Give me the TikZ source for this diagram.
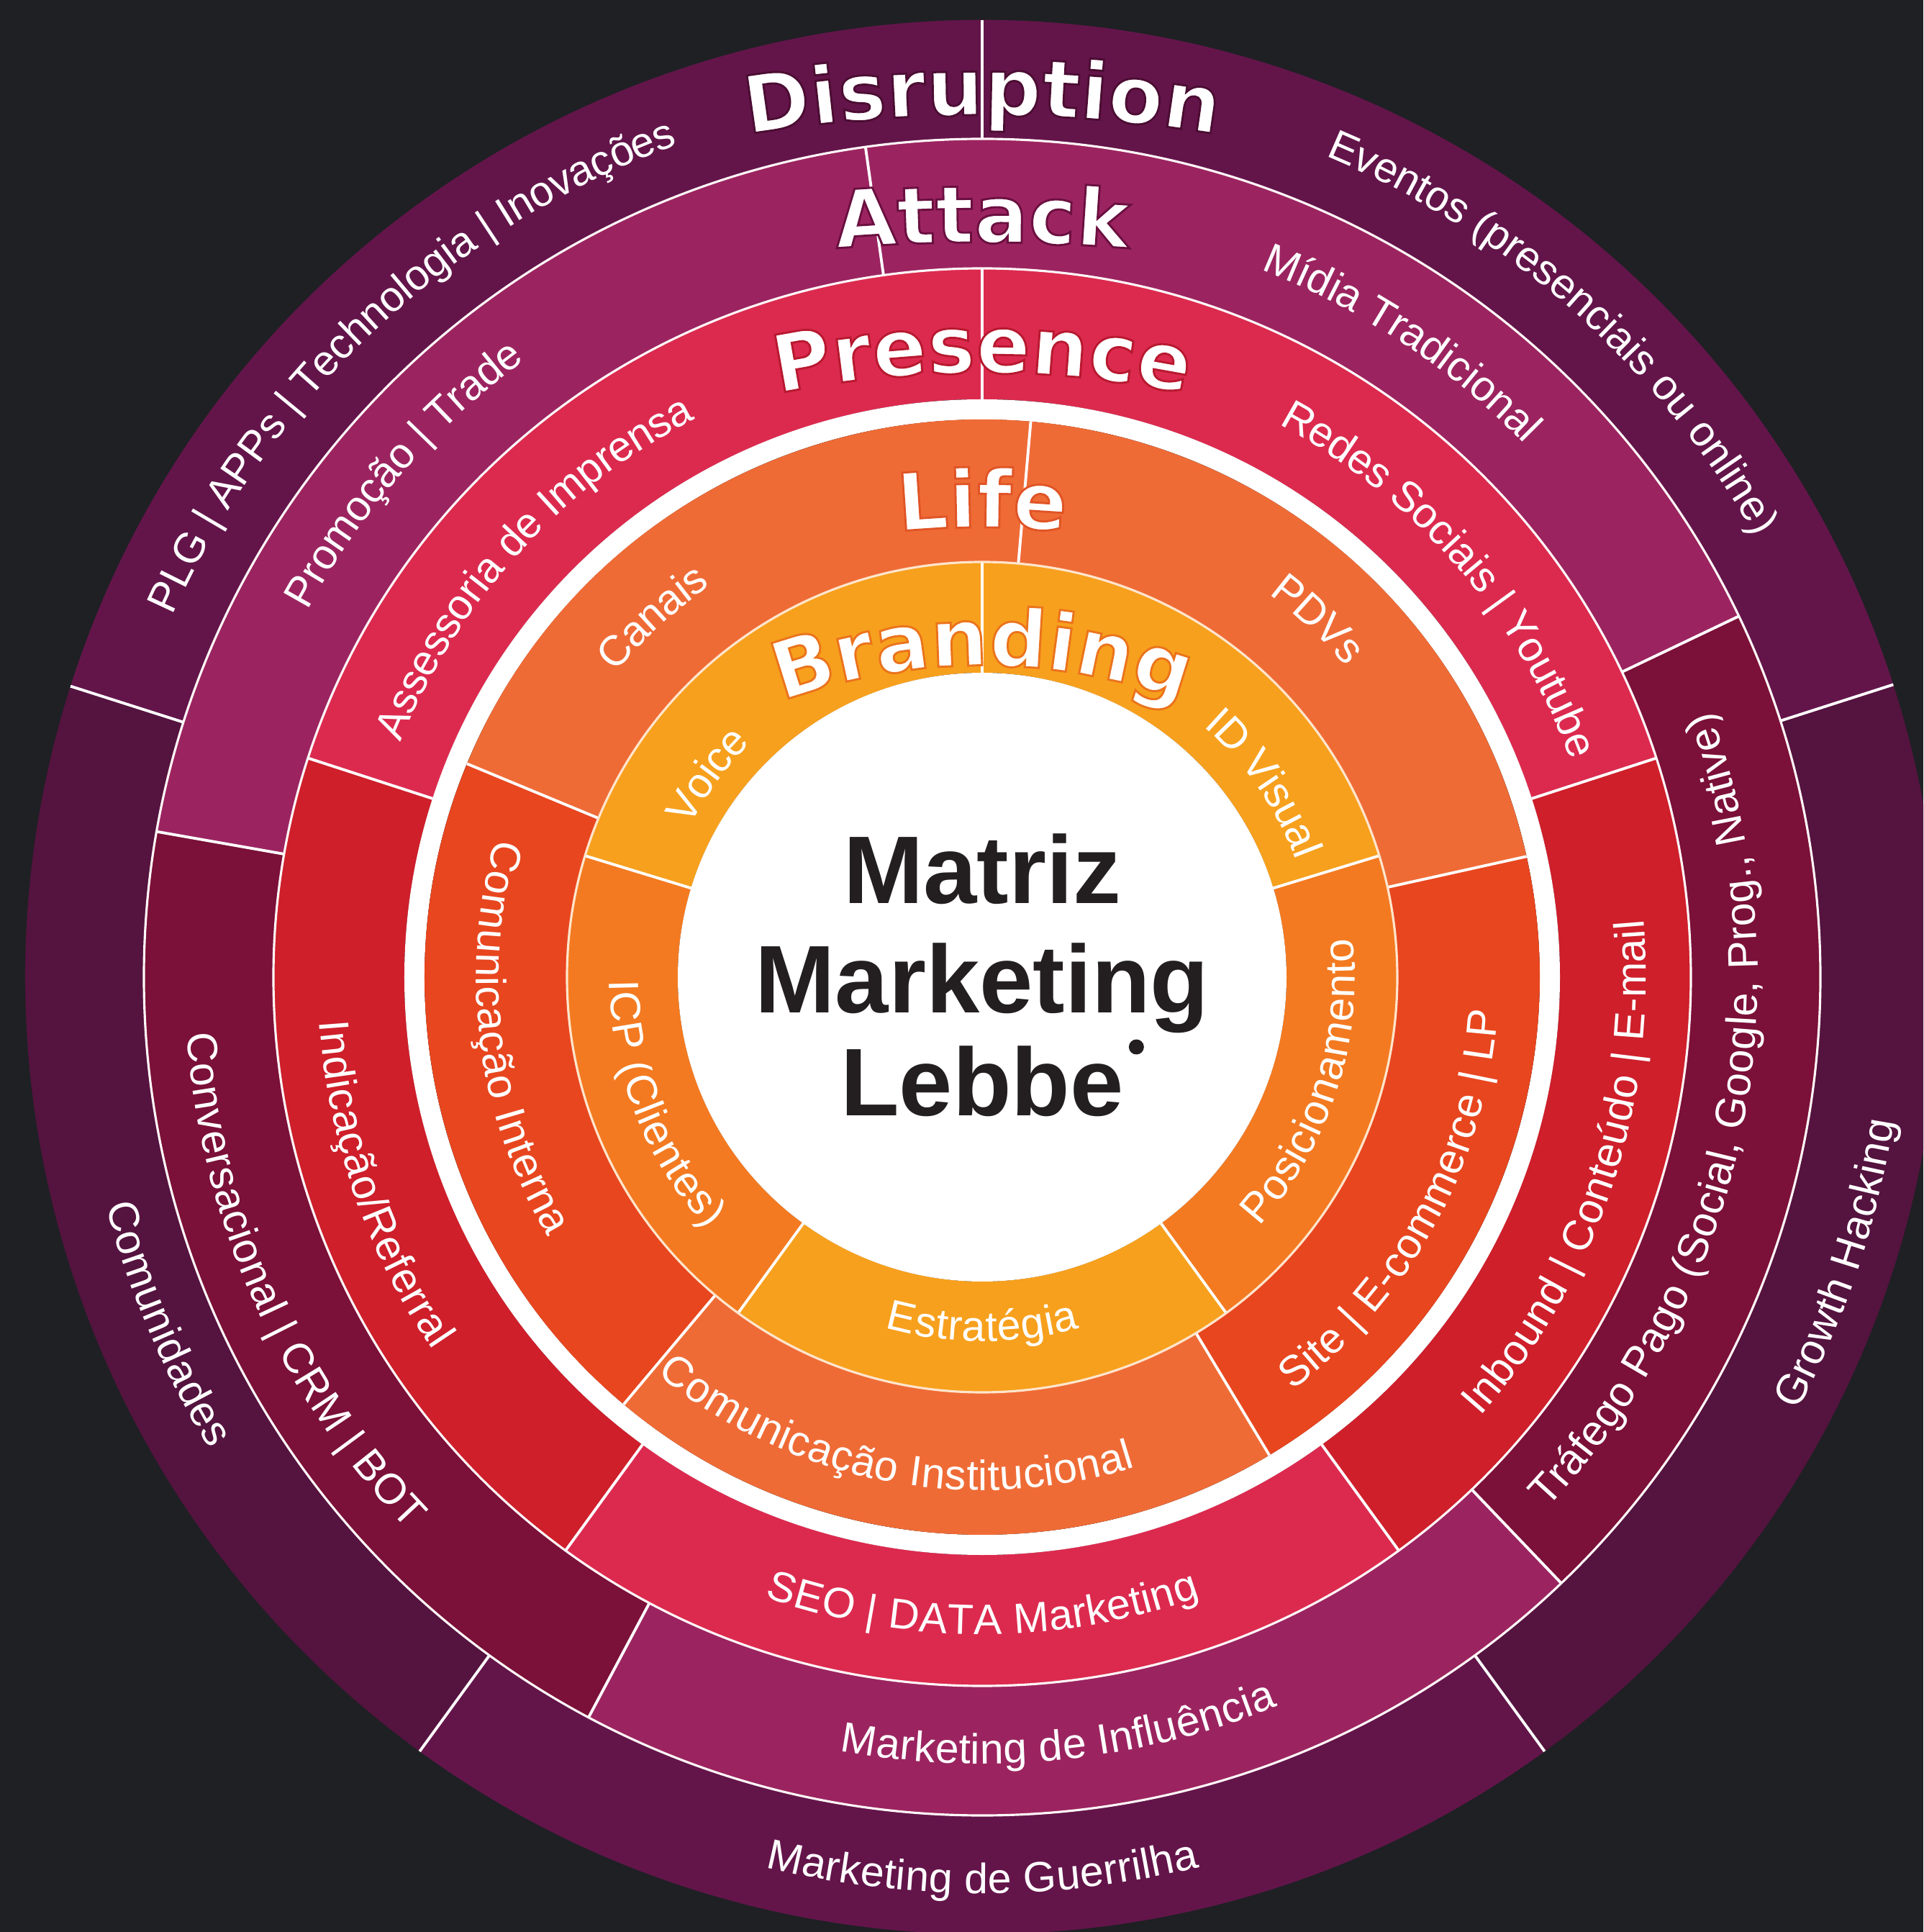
\documentclass[tikz,border=0pt]{standalone}
\usepackage{fontspec}
\setmainfont{Liberation Sans}
\newfontfamily\titlefamily{DejaVu Sans Bold}[FakeBold=2.6]
\usetikzlibrary{decorations.text}

\definecolor{bgdark}{HTML}{1F2024}
\definecolor{inkdark}{HTML}{231F20}
\definecolor{brandY}{HTML}{F7A01D}
\definecolor{brandO}{HTML}{F37A21}
\definecolor{lifeO}{HTML}{EF6B36}
\definecolor{lifeR}{HTML}{E8461F}
\definecolor{presP}{HTML}{DC2A4F}
\definecolor{presR}{HTML}{CE1F2B}
\definecolor{attM}{HTML}{9B2460}
\definecolor{attC}{HTML}{7B1038}
\definecolor{disT}{HTML}{63154A}
\definecolor{disS}{HTML}{55133F}

\newcommand{\lblfont}{\fontsize{16.8}{20}\selectfont}
\newcommand{\titlefont}{\titlefamily\fontsize{31.5}{34}\selectfont}

% annular sector: inner r, outer r, from, to, colour
\newcommand{\ringsector}[5]{%
  \fill[#5] (#3:#1) arc[start angle=#3, end angle=#4, radius=#1]
    -- (#4:#2) arc[start angle=#4, end angle=#3, radius=#2] -- cycle;}

% label read clockwise (top half): radius, middle angle, text
\newcommand{\cwtext}[3]{%
  \path[decorate, decoration={text along path, text align=center, raise=-0.18cm,
      text color=white, text={|\lblfont|#3}}]
    (#2+70:#1) arc[start angle=#2+70, end angle=#2-70, radius=#1];}

% label read counter-clockwise (sides and bottom)
\newcommand{\ccwtext}[3]{%
  \path[decorate, decoration={text along path, text align=center, raise=-0.18cm,
      text color=white, text={|\lblfont|#3}}]
    (#2-70:#1) arc[start angle=#2-70, end angle=#2+70, radius=#1];}

% ring title: baseline radius, bend radius, text, outline rgb (0-1)
\newcommand{\ringtitle}[4]{%
  \path[decorate, decoration={text along path, text align=center,
      text color=white, text={|\titlefont\special{pdf:code #4 RG}|#3}}]
    (0,#1-#2) ++(120:#2) arc[start angle=120, end angle=60, radius=#2];}

\begin{document}
\begin{tikzpicture}[
    divider/.style={draw=white, line width=1.1pt},
    ringline/.style={draw=white!88!pink, line width=0.9pt},
    centertext/.style={font=\bfseries\fontsize{38}{42}\selectfont, text=inkdark,
      inner sep=0pt, anchor=base}
  ]

  \useasboundingbox (-13.65,-13.27) rectangle (13.08,13.58);
  \clip (-13.65,-13.27) rectangle (13.08,13.58);
  \fill[bgdark] (-13.65,-13.27) rectangle (13.08,13.58);

  % Disruption ring (11.65 to 13.30)
  \ringsector{11.65}{13.30}{17.8}{162.3}{disT}
  \ringsector{11.65}{13.30}{162.3}{234}{disS}
  \ringsector{11.65}{13.30}{234}{306}{disT}
  \ringsector{11.65}{13.30}{306}{377.8}{disS}

  % Attack ring (9.85 to 11.65)
  \ringsector{9.85}{11.65}{25.5}{170}{attM}
  \ringsector{9.85}{11.65}{170}{242}{attC}
  \ringsector{9.85}{11.65}{242}{313.7}{attM}
  \ringsector{9.85}{11.65}{313.7}{385.5}{attC}

  % Presence ring (8.03 to 9.85)
  \ringsector{8.03}{9.85}{18}{162}{presP}
  \ringsector{8.03}{9.85}{162}{234}{presR}
  \ringsector{8.03}{9.85}{234}{306}{presP}
  \ringsector{8.03}{9.85}{306}{378}{presR}

  % white band
  \fill[white, even odd rule] (0,0) circle[radius=8.03] (0,0) circle[radius=7.75];

  % Life ring (5.77 to 7.75)
  \ringsector{5.77}{7.75}{12.5}{157.5}{lifeO}
  \ringsector{5.77}{7.75}{157.5}{230}{lifeR}
  \ringsector{5.77}{7.75}{230}{301}{lifeO}
  \ringsector{5.77}{7.75}{301}{372.5}{lifeR}

  % Branding ring (4.23 to 5.77)
  \ringsector{4.23}{5.77}{17}{163}{brandY}
  \ringsector{4.23}{5.77}{163}{234}{brandO}
  \ringsector{4.23}{5.77}{234}{306}{brandY}
  \ringsector{4.23}{5.77}{306}{377}{brandO}

  \fill[white] (0,0) circle[radius=4.23];

  % dividers
  \foreach \a in {17.8,90,162.3,234,306} \draw[divider] (\a:11.65) -- (\a:13.30);
  \foreach \a in {25.5,98,170,242,313.7} \draw[divider] (\a:9.85) -- (\a:11.65);
  \foreach \a in {18,90,162,234,306} \draw[divider] (\a:8.03) -- (\a:9.85);
  \foreach \a in {12.5,85,157.5,230,301} \draw[divider] (\a:5.77) -- (\a:7.75);
  \foreach \a in {17,90,163,234,306} \draw[divider] (\a:4.23) -- (\a:5.77);

  \draw[ringline] (0,0) circle[radius=11.65];
  \draw[ringline] (0,0) circle[radius=9.85];
  \draw[draw=white!80!orange, line width=0.9pt] (0,0) circle[radius=5.77];

  % Disruption labels
  \cwtext{12.5}{133}{PLG {|} APPs {|} Technologia {|} Inovações}
  \cwtext{12.55}{48.5}{Eventos (presenciais ou online)}
  \ccwtext{12.4}{203}{Comunidades}
  \ccwtext{12.55}{270}{Marketing de Guerrilha}
  \ccwtext{12.65}{341.5}{Growth Hacking}

  % Attack labels
  \cwtext{10.85}{139}{Promoção {|} Trade}
  \cwtext{10.75}{56.5}{Mídia Tradicional}
  \ccwtext{10.9}{204}{Conversacional {|} CRM {|} BOT}
  \ccwtext{10.75}{275.8}{Marketing de Influência}
  \ccwtext{10.6}{348.4}{Tráfego Pago (Social, Google, Prog., Native)}

  % Presence labels
  \cwtext{8.9}{137.6}{Assessoria de Imprensa}
  \cwtext{8.9}{41}{Redes Sociais {|} Youtube}
  \ccwtext{9.05}{199}{Indicação/Referral}
  \ccwtext{8.95}{270}{SEO {|} DATA Marketing}
  \ccwtext{9.05}{341.8}{Inbound {|} Conteúdo {|} E-mail}

  % Life labels
  \cwtext{6.8}{132.5}{Canais}
  \cwtext{6.83}{46.8}{PDVs}
  \ccwtext{6.85}{187.5}{Comunicação Interna}
  \ccwtext{6.95}{259}{Comunicação Institucional}
  \ccwtext{7.0}{331.6}{Site {|} E-commerce {|} LP}

  % Branding labels
  \cwtext{4.75}{143.7}{Voice}
  \cwtext{4.83}{34.5}{ID Visual}
  \ccwtext{5.0}{201.5}{ICP (Clientes)}
  \ccwtext{4.88}{270}{Estratégia}
  \ccwtext{5.0}{342}{Posicionamento}

  % ring titles
  \ringtitle{11.98}{20}{Disruption}{0.30 0.05 0.20}
  \ringtitle{10.21}{25}{Attack}{0.42 0.06 0.25}
  \ringtitle{8.40}{14}{Presence}{0.72 0.10 0.19}
  \ringtitle{6.25}{12}{Life}{0.88 0.33 0.15}
  \ringtitle{4.33}{8}{Branding}{0.92 0.45 0.11}

  % centre
  \node[centertext] (matriz) at (0,1.02) {Matriz};
  \node[centertext] (marketing) at (0,-0.50) {Marketing};
  \node[centertext] (lebbe) at (0,-1.93) {Lebbe};
  \fill[inkdark] (lebbe.base east) ++(0.17,0.96) circle[radius=0.105];

\end{tikzpicture}
\end{document}
